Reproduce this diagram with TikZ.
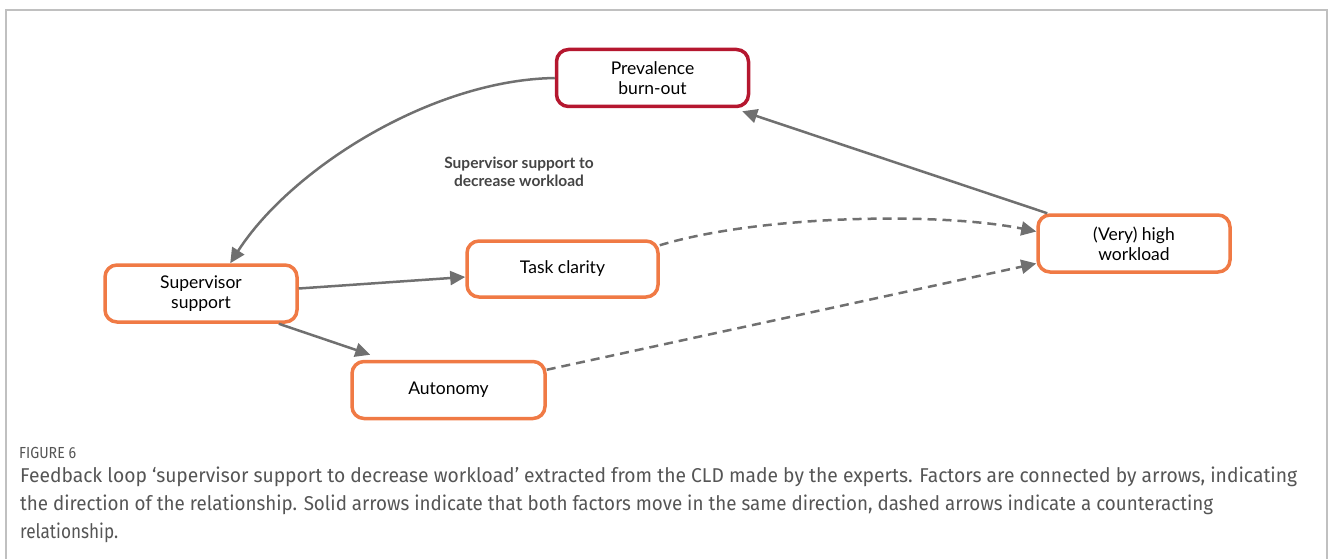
\documentclass[tikz,border=0pt]{standalone}
\usepackage{fontspec}
\usepackage{graphicx}
\setmainfont{Lato}
\newfontfamily\capfont{Fira Sans}
\usetikzlibrary{arrows.meta,calc}
\definecolor{factor}{HTML}{F07A45}
\definecolor{outcome}{HTML}{B5172F}
\definecolor{link}{HTML}{707070}
\definecolor{framegray}{HTML}{C0C0C0}
\definecolor{captext}{HTML}{555555}
\definecolor{looptext}{HTML}{444444}
\tikzset{
  factorbox/.style={draw=factor, line width=3.5pt, rounded corners=12pt, fill=white,
    minimum width=192pt, minimum height=57pt, align=center,
    font=\fontsize{17.5}{20}\selectfont, inner sep=0pt},
  outcomebox/.style={factorbox, draw=outcome},
  link/.style={draw=link, line width=2.5pt, -{Triangle[length=15pt,width=14pt]}},
  counter/.style={link, dash pattern=on 9pt off 6pt},
  capline/.style={anchor=base west, inner sep=0pt, text=captext,
    font=\capfont\fontsize{20}{22}\selectfont},
}
\begin{document}
\begin{tikzpicture}[x=1pt,y=-1pt]
\useasboundingbox (0,0) rectangle (1330,559);
% panel frame, open at the bottom
\draw[framegray, line width=2pt] (6,565) -- (6,10) -- (1327,10) -- (1327,565);

% factors
\node[outcomebox] (burn) at (652.5,78) {Prevalence\\burn-out};
\node[factorbox] (sup) at (201,293.5) {Supervisor\\support};
\node[factorbox, minimum width=191pt, minimum height=56pt] (task) at (562.5,269) {Task clarity};
\node[factorbox, minimum width=193pt] (aut) at (448.5,390) {Autonomy};
\node[factorbox] (work) at (1134,243.5) {(Very) high\\workload};

% loop name
\node[align=center, text=looptext, font=\bfseries\fontsize{15.5}{18}\selectfont] (loop)
  at (519,172) {Supervisor support to\\decrease workload};

% solid links: same direction
\draw[link] (burn.west) .. controls (430,80) and (290,170) .. (sup.46);
\draw[link] ($(work.north west)+(11,0)$) -- ($(burn.south east)+(-8,3)$);
\draw[link] ($(sup.east)+(0,-5)$) -- ($(task.west)+(0,8)$);
\draw[link] ($(sup.south east)+(-20,0)$) -- ($(aut.north west)+(20,-5)$);

% dashed links: counteracting
\draw[counter] ($(task.north east)+(0,6)$) .. controls (760,215) and (940,212) .. ($(work.west)+(0,-12)$);
\draw[counter] ($(aut.north east)+(0,10)$) -- ($(work.west)+(0,20)$);

% caption
\node[anchor=base west, inner sep=0pt, text=captext, font=\capfont\fontsize{16}{18}\selectfont] (fig) at (19,458) {\resizebox{57pt}{\height}{FIGURE 6}};
\node[capline] (c1) at (20,482) {\resizebox{1277pt}{\height}{Feedback loop ‘supervisor support to decrease workload’ extracted from the CLD made by the experts. Factors are connected by arrows, indicating}};
\node[capline] (c2) at (20,510) {\resizebox{1193pt}{\height}{the direction of the relationship. Solid arrows indicate that both factors move in the same direction, dashed arrows indicate a counteracting}};
\node[capline] (c3) at (20,538) {\resizebox{98pt}{\height}{relationship.}};
\end{tikzpicture}
\end{document}
